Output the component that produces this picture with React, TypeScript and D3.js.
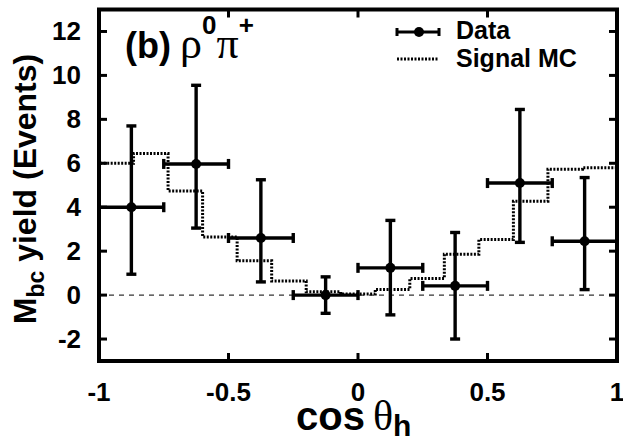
import React from "react";
import * as d3 from "d3";

const binCenters = [-0.875, -0.625, -0.375, -0.125, 0.125, 0.375, 0.625, 0.875];
const binHalfWidth = 0.125;
const yieldValues = [4.0, 5.97, 2.6, 0.0, 1.24, 0.42, 5.1, 2.45];
const errHigh = [7.7, 9.55, 5.25, 0.83, 3.4, 2.85, 8.45, 5.35];
const errLow = [0.95, 3.05, 0.6, -0.83, -0.9, -2.0, 2.4, 0.25];

const mcValues = [6.0, 6.44, 4.74, 2.65, 1.56, 0.64, 0.15, 0.05, 0.26, 0.76, 1.86, 2.53, 4.27, 5.73, 5.8];

const xTicks = [-1, -0.5, 0, 0.5, 1];
const xTickLabels = ["-1", "-0.5", "0", "0.5", "1"];
const yTicks = [-2, 0, 2, 4, 6, 8, 10, 12];

const W = 623;
const H = 441;
const L = 99;
const R = 617;
const T = 9.5;
const B = 361;

const FONT = "'Liberation Sans', Arial, Helvetica, sans-serif";
const SERIF = "'Liberation Serif', 'Times New Roman', serif";

export default function App() {
  const x = d3.scaleLinear().domain([-1, 1]).range([L, R]);
  const y = d3.scaleLinear().domain([-3, 13]).range([B, T]);

  const nb = mcValues.length;
  const edges = d3.range(nb + 1).map((i) => -1 + (2 * i) / nb);
  const pts: [number, number][] = [[-1, 0]];
  mcValues.forEach((v, i) => {
    pts.push([edges[i], v]);
    pts.push([edges[i + 1], v]);
  });
  pts.push([1, 0]);
  const line = d3
    .line<[number, number]>()
    .x((d) => x(d[0]))
    .y((d) => y(d[1]));

  const capV = 5;
  const sw = 3.4;

  return (
    <svg
      width={W}
      height={H}
      style={{ position: "absolute", left: 0, top: 0, background: "#fff" }}
      fontFamily={FONT}
    >
      <rect x={0} y={0} width={W} height={H} fill="#fff" />
      <line
        x1={x(-1)}
        x2={x(1)}
        y1={y(0)}
        y2={y(0)}
        stroke="#000"
        strokeWidth={1}
        strokeDasharray="5,5"
      />
      <path d={line(pts) || ""} fill="none" stroke="#000" strokeWidth={3} strokeDasharray="2,1.5" />
      {binCenters.map((c, i) => {
        const cx = x(c);
        const cy = y(yieldValues[i]);
        const x0 = x(c - binHalfWidth);
        const x1 = x(c + binHalfWidth);
        const yh = y(errHigh[i]);
        const yl = y(errLow[i]);
        return (
          <g key={i} stroke="#000" strokeWidth={sw}>
            <line x1={x0} x2={x1} y1={cy} y2={cy} />
            <line x1={x0} x2={x0} y1={cy - capV} y2={cy + capV} />
            <line x1={x1} x2={x1} y1={cy - capV} y2={cy + capV} />
            <line x1={cx} x2={cx} y1={yh} y2={yl} />
            <line x1={cx - capV} x2={cx + capV} y1={yh} y2={yh} />
            <line x1={cx - capV} x2={cx + capV} y1={yl} y2={yl} />
            <circle cx={cx} cy={cy} r={5} fill="#000" stroke="none" />
          </g>
        );
      })}
      <rect x={L} y={T} width={R - L} height={B - T} fill="none" stroke="#000" strokeWidth={4} />
      {xTicks.map((t, i) => (
        <g key={"xt" + i} stroke="#000" strokeWidth={3}>
          <line x1={x(t)} x2={x(t)} y1={B} y2={B - 8} />
          <line x1={x(t)} x2={x(t)} y1={T} y2={T + 8} />
        </g>
      ))}
      {yTicks.map((t, i) => (
        <g key={"yt" + i} stroke="#000" strokeWidth={3}>
          <line x1={L} x2={L + 8} y1={y(t)} y2={y(t)} />
          <line x1={R} x2={R - 8} y1={y(t)} y2={y(t)} />
        </g>
      ))}
      {xTicks.map((t, i) => (
        <text
          key={"xl" + i}
          x={x(t)}
          y={401}
          textAnchor="middle"
          fontSize={26}
          fontWeight="bold"
        >
          {xTickLabels[i]}
        </text>
      ))}
      {yTicks.map((t, i) => (
        <text
          key={"yl" + i}
          x={81}
          y={y(t) + 9}
          textAnchor="end"
          fontSize={26}
          fontWeight="bold"
        >
          {String(t)}
        </text>
      ))}
      <text x={125} y={58} fontSize={36} fontWeight="bold">
        (b)
        <tspan fontWeight="normal" fontFamily={SERIF} fontSize={44} dx={9}>ρ</tspan>
        <tspan fontSize={26} dy={-24}>0</tspan>
        <tspan fontWeight="normal" fontFamily={SERIF} fontSize={44} dy={24}>π</tspan>
        <tspan fontSize={26} dy={-24}>+</tspan>
      </text>
      <g stroke="#000" strokeWidth={3}>
        <line x1={397} x2={439} y1={32} y2={32} />
        <line x1={397} x2={397} y1={28} y2={36} />
        <line x1={439} x2={439} y1={28} y2={36} />
        <circle cx={419} cy={32} r={5} fill="#000" stroke="none" />
        <line x1={397} x2={439} y1={59} y2={59} strokeDasharray="2,1.5" />
      </g>
      <text x={456} y={39} fontSize={25} fontWeight="bold">
        Data
      </text>
      <text x={456} y={67} fontSize={25} fontWeight="bold">
        Signal MC
      </text>
      <text
        transform="translate(36,189) rotate(-90)"
        textAnchor="middle"
        fontSize={32}
        fontWeight="bold"
      >
        M<tspan fontSize={23} dy={8}>bc</tspan>
        <tspan dy={-8}> yield (Events)</tspan>
      </text>
      <text x={296} y={430} fontSize={40} fontWeight="bold">
        cos
        <tspan fontWeight="normal" fontFamily={SERIF} fontSize={42} dx={8}>θ</tspan>
        <tspan fontSize={30} dy={6}>h</tspan>
      </text>
    </svg>
  );
}
